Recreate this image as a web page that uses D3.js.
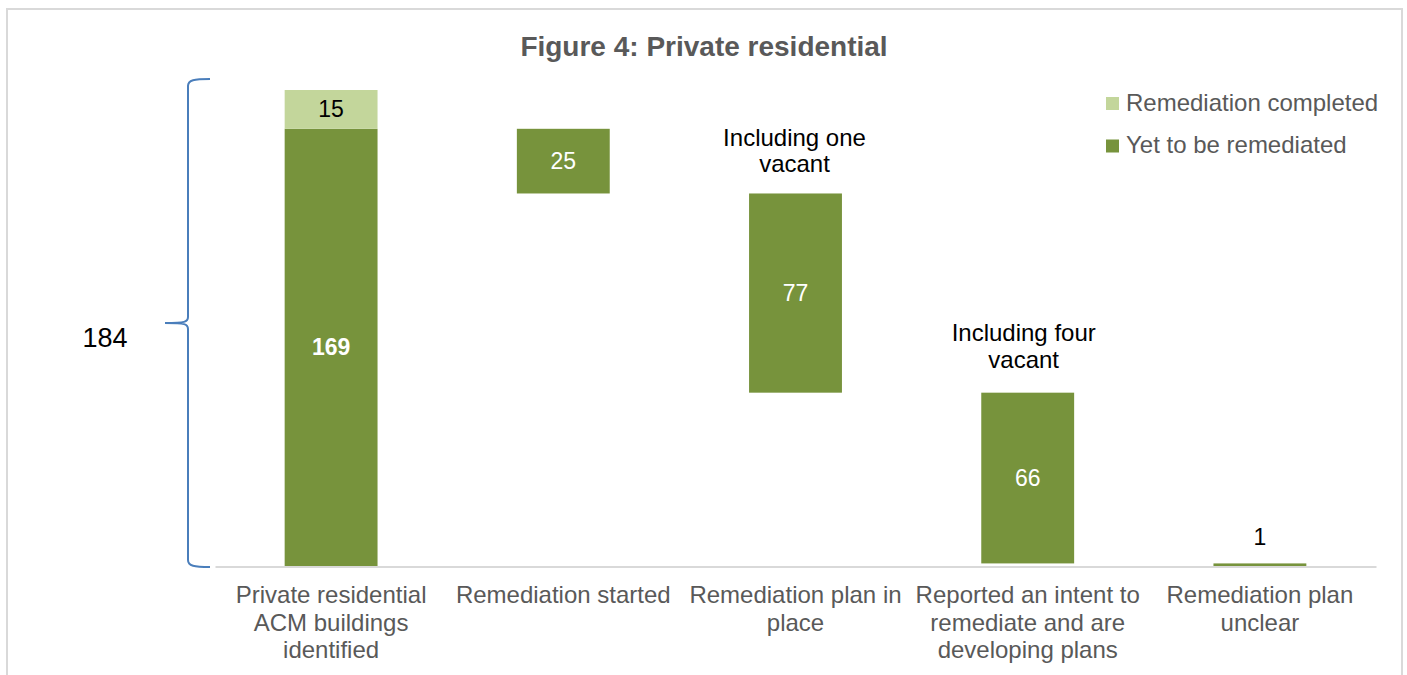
<!DOCTYPE html>
<html>
<head>
<meta charset="utf-8">
<script src="https://cdn.jsdelivr.net/npm/d3@7"></script>
<style>
  html, body { margin: 0; padding: 0; background: #fff; }
  svg { display: block; font-family: "Liberation Sans", Arial, sans-serif; }
</style>
</head>
<body>
<svg id="chart" width="1407" height="675"></svg>
<script>
// ---- Data ----
const categories = [
  "Private residential ACM buildings identified",
  "Remediation started",
  "Remediation plan in place",
  "Reported an intent to remediate and are developing plans",
  "Remediation plan unclear"
];
const completed = [15, 0, 0, 0, 0];          // Remediation completed
const yetToBeRemediated = [169, 25, 77, 66, 1]; // Yet to be remediated
const notes = ["", "", "Including one vacant", "Including four vacant", ""];
const seriesNames = ["Remediation completed", "Yet to be remediated"];
const totalLabel = "184";
const title = "Figure 4: Private residential";

// ---- Layout ----
const svg = d3.select("#chart");
const colDark = "#77933c", colLight = "#c3d69b", textGray = "#595959";

const total = completed[0] + yetToBeRemediated[0];

// waterfall extents for "yet" series
const segs = [];
let running = yetToBeRemediated[0];
yetToBeRemediated.forEach((v, i) => {
  if (i === 0) {
    segs.push({i, lo: 0, hi: v, cat: categories[i]});
  } else {
    segs.push({i, lo: running - v, hi: running, cat: categories[i]});
    running -= v;
  }
});

const x = d3.scaleBand().domain(categories).range([215, 1376])
  .paddingInner(0.6).paddingOuter(0.3);
const y = d3.scaleLinear().domain([0, total]).range([566, 90]);

// border
svg.append("rect").attr("x", 7).attr("y", 9).attr("width", 1395).attr("height", 720)
  .attr("fill", "none").attr("stroke", "#d9d9d9").attr("stroke-width", 2);

// title
svg.append("text").attr("x", 704).attr("y", 56).attr("text-anchor", "middle")
  .attr("font-size", 28).attr("font-weight", "bold").attr("fill", textGray).text(title);

// bars: yet to be remediated
svg.append("g").selectAll("rect").data(segs).join("rect")
  .attr("x", d => x(d.cat)).attr("width", x.bandwidth())
  .attr("y", d => y(d.hi)).attr("height", d => Math.max(0, y(d.lo) - y(d.hi)))
  .attr("fill", colDark);

// bars: completed (stacked on top of first)
svg.append("g").selectAll("rect").data(completed.map((v, i) => ({v, i, cat: categories[i]})).filter(d => d.v > 0)).join("rect")
  .attr("x", d => x(d.cat)).attr("width", x.bandwidth())
  .attr("y", d => y(yetToBeRemediated[d.i] + d.v))
  .attr("height", d => y(yetToBeRemediated[d.i]) - y(yetToBeRemediated[d.i] + d.v))
  .attr("fill", colLight);

// axis baseline
const xAxis = d3.axisBottom(x).tickSize(0).tickFormat("");
const axG = svg.append("g").attr("transform", "translate(0,566.5)").call(xAxis);
axG.select(".domain").attr("stroke", "#d9d9d9").attr("stroke-width", 2);

// category labels (wrapped)
function wrapLines(text, maxW, fontSize) {
  const tmp = svg.append("text").attr("font-size", fontSize);
  const words = text.split(" ");
  const lines = [];
  let line = [];
  words.forEach(w => {
    const test = line.concat([w]).join(" ");
    tmp.text(test);
    if (tmp.node().getComputedTextLength() > maxW && line.length) {
      lines.push(line.join(" "));
      line = [w];
    } else line.push(w);
  });
  if (line.length) lines.push(line.join(" "));
  tmp.remove();
  return lines;
}
categories.forEach(c => {
  const lines = wrapLines(c, 228, 24);
  const t = svg.append("text").attr("text-anchor", "middle").attr("font-size", 24).attr("fill", textGray);
  lines.forEach((l, k) => {
    t.append("tspan").attr("x", x(c) + x.bandwidth() / 2).attr("y", 603 + k * 27.5).text(l);
  });
});

// data labels
completed.forEach((v, i) => {
  if (v > 0) {
    const yc = (y(yetToBeRemediated[i]) + y(yetToBeRemediated[i] + v)) / 2;
    svg.append("text").attr("x", x(categories[i]) + x.bandwidth() / 2).attr("y", yc + 8)
      .attr("text-anchor", "middle").attr("font-size", 23).attr("fill", "#000").text(v);
  }
});
segs.forEach(d => {
  const v = yetToBeRemediated[d.i];
  const cx = x(d.cat) + x.bandwidth() / 2;
  const hPx = y(d.lo) - y(d.hi);
  if (hPx > 30) {
    svg.append("text").attr("x", cx).attr("y", (y(d.lo) + y(d.hi)) / 2 + 8)
      .attr("text-anchor", "middle").attr("font-size", 23)
      .attr("font-weight", d.i === 0 ? "bold" : "normal")
      .attr("fill", "#fff").text(v);
  } else {
    svg.append("text").attr("x", cx).attr("y", y(d.hi) - 18)
      .attr("text-anchor", "middle").attr("font-size", 23).attr("fill", "#000").text(v);
  }
});

// annotations above bars
notes.forEach((n, i) => {
  if (!n) return;
  const d = segs[i];
  const lines = wrapLines(n, 150, 24);
  const cx = x(d.cat) + x.bandwidth() / 2 - (i === 3 ? 4 : 1);
  const t = svg.append("text").attr("text-anchor", "middle").attr("font-size", 24).attr("fill", "#000");
  const last = y(d.hi) - (i === 3 ? 25 : 21);
  lines.forEach((l, k) => {
    t.append("tspan").attr("x", cx).attr("y", last - (lines.length - 1 - k) * 26.5).text(l);
  });
});

// legend
const legend = svg.append("g");
[colLight, colDark].forEach((c, k) => {
  legend.append("rect").attr("x", 1106).attr("y", 97 + k * 42.5).attr("width", 13).attr("height", 13).attr("fill", c);
  legend.append("text").attr("x", 1126).attr("y", 110.5 + k * 42.5).attr("font-size", 24)
    .attr("fill", textGray).text(seriesNames[k]);
});

// brace for total
const bTop = y(total) - 11, bBot = 567, bMid = (bTop + bBot) / 2;
const bx = 188, bTip = 165, bEnd = 210;
const bracePath = `M${bEnd},${bTop} C${bx+6},${bTop} ${bx},${bTop+1} ${bx},${bTop+7}
  L${bx},${bMid-6} C${bx},${bMid-1} ${bx-3},${bMid} ${bTip},${bMid}
  C${bx-3},${bMid} ${bx},${bMid+1} ${bx},${bMid+6}
  L${bx},${bBot-7} C${bx},${bBot-1} ${bx+6},${bBot} ${bEnd},${bBot}`;
svg.append("path").attr("d", bracePath).attr("fill", "none")
  .attr("stroke", "#4a7ebb").attr("stroke-width", 2);
svg.append("text").attr("x", 105).attr("y", bMid + 24).attr("text-anchor", "middle")
  .attr("font-size", 27).attr("fill", "#000").text(totalLabel);
</script>
</body>
</html>
